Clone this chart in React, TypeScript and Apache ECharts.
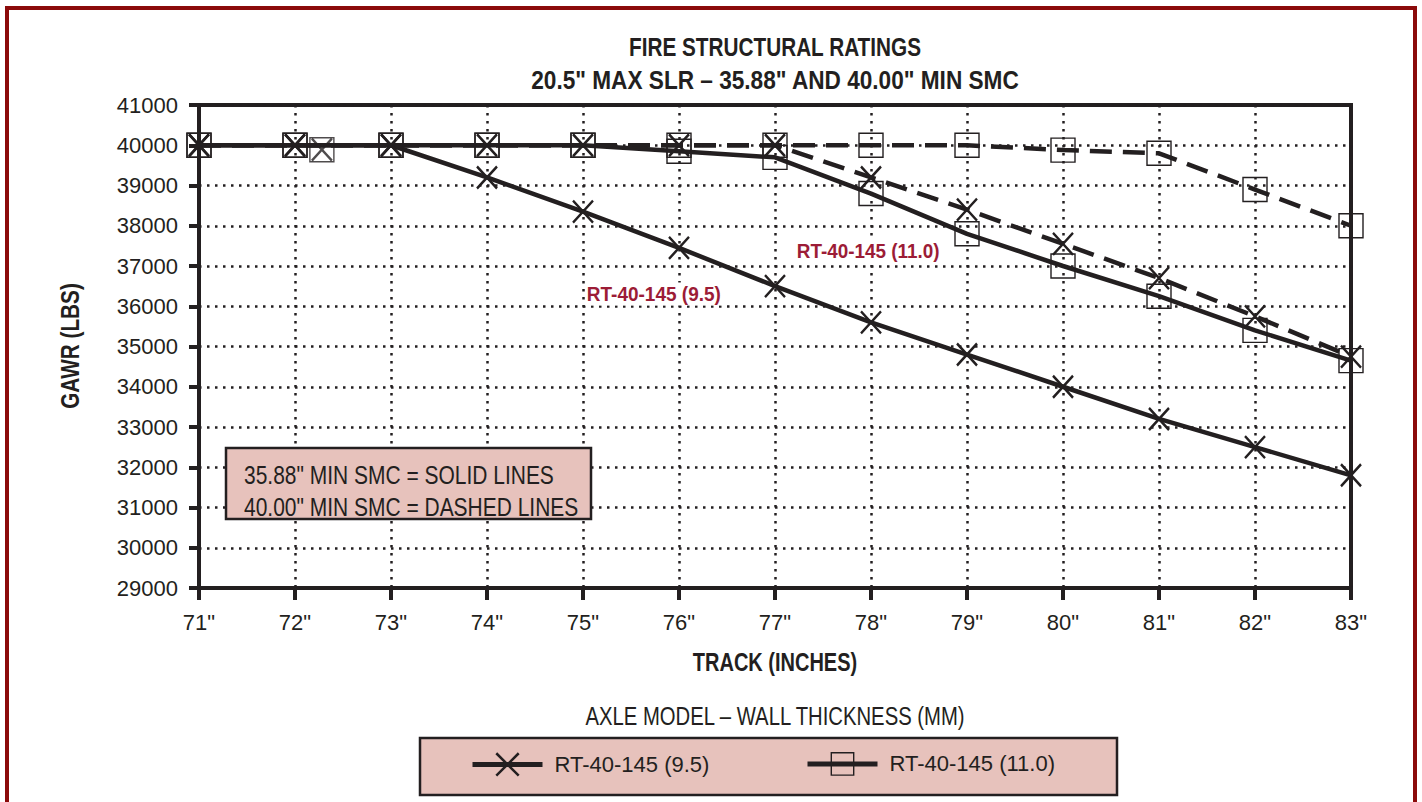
import React, { useEffect, useRef } from "react";
import * as echarts from "echarts";

const tracks = [71, 72, 73, 74, 75, 76, 77, 78, 79, 80, 81, 82, 83];
const rt95Solid = [40000, 40000, 40000, 39200, 38350, 37450, 36500, 35600, 34800, 34000, 33200, 32500, 31800];
const rt95Dashed = [40000, 40000, 40000, 40000, 40000, 40000, 40000, 39200, 38400, 37550, 36700, 35750, 34750];
const rt110Solid = [40000, 40000, 40000, 40000, 40000, 39850, 39700, 38800, 37800, 37000, 36250, 35400, 34650];
const rt110Dashed = [40000, 40000, 40000, 40000, 40000, 40000, 40000, 40000, 40000, 39880, 39800, 38900, 38000];
const strayPoint = [72.28, 39890];

const titleLines = ["FIRE STRUCTURAL RATINGS", '20.5" MAX SLR \u2013 35.88" AND 40.00" MIN SMC'];
const xAxisTitle = "TRACK (INCHES)";
const yAxisTitle = "GAWR (LBS)";
const legendTitle = "AXLE MODEL \u2013 WALL THICKNESS (MM)";
const seriesNames = ["RT-40-145 (9.5)", "RT-40-145 (11.0)"];
const noteLines = ['35.88" MIN SMC = SOLID LINES', '40.00" MIN SMC = DASHED LINES'];

const INK = "#231f20";
const PINK = "#e7c2bc";
const RED = "#9c1c36";
const FRAME = "#8b0a0a";
const FONT = "'Liberation Sans', Arial, sans-serif";
const X_SYMBOL = "path://M0,0L20,22M20,0L0,22";

const pairs = (ys: number[]) => tracks.map((x, i) => [x, ys[i]]);

const txt = (
  text: string,
  x: number,
  y: number,
  size: number,
  sx: number,
  opts: { bold?: boolean; color?: string; align?: string; z?: number; rotation?: number; bg?: string } = {}
) => ({
  type: "text",
  z: opts.z ?? 21,
  x,
  y,
  scaleX: sx,
  rotation: opts.rotation ?? 0,
  style: {
    text,
    x: 0,
    y: 0,
    fontFamily: FONT,
    fontWeight: opts.bold ? "bold" : "normal",
    fontSize: size,
    fill: opts.color ?? INK,
    align: opts.align ?? "left",
    verticalAlign: "middle",
    ...(opts.bg ? { backgroundColor: opts.bg, padding: [1, 2] } : {}),
  },
});

export default function App() {
  const ref = useRef<HTMLDivElement>(null);
  useEffect(() => {
    document.body.style.margin = "0";
    const chart = echarts.init(ref.current!, undefined, { renderer: "svg" });
    const xItem = { color: "rgba(0,0,0,0)", borderColor: INK, borderWidth: 2.5 };
    const sqItem = { color: "rgba(0,0,0,0)", borderColor: INK, borderWidth: 1.4 };
    const lineBase = { type: "line", symbolKeepAspect: false, z: 3 } as any;
    const legendBase = {
      top: 752,
      padding: 0,
      itemWidth: 70,
      itemHeight: 28,
      z: 6,
      lineStyle: { width: 5 },
      textStyle: { fontFamily: FONT, fontSize: 22, color: INK, padding: [0, 0, 0, 7] },
    };
    chart.setOption({
      animation: false,
      backgroundColor: "#ffffff",
      grid: { left: 199, top: 105, width: 1152, height: 483, show: true, borderColor: INK, borderWidth: 4, backgroundColor: "transparent" },
      xAxis: {
        type: "value",
        min: 71,
        max: 83,
        interval: 1,
        axisLine: { show: true, lineStyle: { color: INK, width: 4 } },
        axisTick: { show: true, length: 12, lineStyle: { color: INK, width: 4 } },
        axisLabel: { formatter: (v: number) => v + '"', fontFamily: FONT, fontSize: 22, color: INK, margin: 23 },
        splitLine: { show: true, lineStyle: { color: INK, width: 2.5, type: [2.5, 5.5] } },
      },
      yAxis: {
        type: "value",
        min: 29000,
        max: 41000,
        interval: 1000,
        axisLine: { show: true, lineStyle: { color: INK, width: 4 } },
        axisTick: { show: true, length: 10, lineStyle: { color: INK, width: 4 } },
        axisLabel: { formatter: (v: number) => String(v), fontFamily: FONT, fontSize: 22, color: INK, margin: 21 },
        splitLine: { show: true, lineStyle: { color: INK, width: 2.5, type: [2.5, 5.5] } },
      },
      legend: [
        { ...legendBase, data: [seriesNames[0]], left: 470, itemStyle: { borderWidth: 2.5 } },
        { ...legendBase, data: [seriesNames[1]], left: 805, itemStyle: { borderWidth: 1.4 } },
      ],
      graphic: [
        { type: "rect", z: 0, shape: { x: 7, y: 8, width: 1408, height: 1000 }, style: { fill: "none", stroke: FRAME, lineWidth: 4 } },
        txt(titleLines[0], 775, 47, 25, 0.83, { bold: true, align: "center", z: 2 }),
        txt(titleLines[1], 775, 80, 25, 0.905, { bold: true, align: "center", z: 2 }),
        txt(xAxisTitle, 775, 663, 25, 0.8, { bold: true, align: "center", z: 2 }),
        txt(yAxisTitle, 70, 346, 25, 0.83, { bold: true, align: "center", z: 2, rotation: Math.PI / 2 }),
        { type: "rect", z: 1, shape: { x: 420, y: 738, width: 697, height: 57 }, style: { fill: PINK, stroke: INK, lineWidth: 2.5 } },
        txt(legendTitle, 775, 716, 26, 0.78, { align: "center", z: 2 }),
        { type: "rect", z: 20, shape: { x: 226, y: 448, width: 365, height: 71 }, style: { fill: PINK, stroke: INK, lineWidth: 2.5 } },
        txt(noteLines[0], 244, 475, 26, 0.807),
        txt(noteLines[1], 244, 507, 26, 0.807),
        txt(seriesNames[1], 795, 251, 21, 0.9, { bold: true, color: RED, bg: "#ffffff" }),
        txt(seriesNames[0], 585, 294, 21, 0.905, { bold: true, color: RED, bg: "#ffffff" }),
      ],
      series: [
        {
          ...lineBase,
          name: '40.00" MIN SMC \u2013 ' + seriesNames[1],
          data: pairs(rt110Dashed),
          symbol: "rect",
          symbolSize: 24,
          itemStyle: sqItem,
          lineStyle: { color: INK, width: 4.5, type: [22, 11] },
        },
        {
          ...lineBase,
          name: '40.00" MIN SMC \u2013 ' + seriesNames[0],
          data: pairs(rt95Dashed),
          symbol: X_SYMBOL,
          symbolSize: [20, 22],
          itemStyle: xItem,
          lineStyle: { color: INK, width: 4.5, type: [22, 11] },
        },
        {
          ...lineBase,
          name: seriesNames[1],
          data: pairs(rt110Solid),
          symbol: "rect",
          symbolSize: 24,
          itemStyle: sqItem,
          lineStyle: { color: INK, width: 4.5, type: "solid" },
        },
        {
          ...lineBase,
          name: seriesNames[0],
          data: pairs(rt95Solid),
          symbol: X_SYMBOL,
          symbolSize: [20, 22],
          itemStyle: xItem,
          lineStyle: { color: INK, width: 4.5, type: "solid" },
        },
        {
          type: "scatter",
          name: "marker (11.0)",
          data: [strayPoint],
          symbol: "rect",
          symbolSize: 24,
          itemStyle: sqItem,
          z: 3,
        },
        {
          type: "scatter",
          name: "marker (9.5)",
          data: [strayPoint],
          symbol: X_SYMBOL,
          symbolSize: [20, 22],
          itemStyle: xItem,
          z: 3,
        },
      ],
    });
    return () => chart.dispose();
  }, []);
  return <div ref={ref} style={{ width: 1422, height: 802, overflow: "hidden" }} />;
}
